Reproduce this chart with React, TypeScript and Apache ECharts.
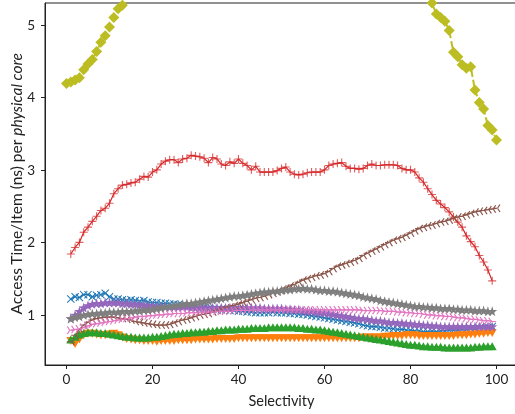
import React, { useEffect, useRef } from "react";
import * as echarts from "echarts";

const xTicks = [0, 20, 40, 60, 80, 100];
const yTicks = [1, 2, 3, 4, 5];

// all bottom series start at selectivity 1, olive at 0
const blueVals = [1.22, 1.25, 1.24, 1.28, 1.28, 1.25, 1.27, 1.28, 1.30, 1.25, 1.22, 1.22, 1.21, 1.20, 1.21, 1.20, 1.19, 1.20, 1.18, 1.17,
  1.17, 1.16, 1.16, 1.15, 1.15, 1.14, 1.13, 1.12, 1.12, 1.11, 1.10, 1.10, 1.09, 1.08, 1.08, 1.07, 1.07, 1.06, 1.06, 1.05,
  1.05, 1.04, 1.04, 1.03, 1.03, 1.03, 1.03, 1.04, 1.03, 1.03, 1.03, 1.02, 1.02, 1.01, 1.01, 1.00, 0.99, 0.98, 0.97, 0.96,
  0.95, 0.94, 0.93, 0.92, 0.91, 0.90, 0.89, 0.88, 0.86, 0.85, 0.84, 0.84, 0.83, 0.82, 0.82, 0.81, 0.80, 0.80, 0.79, 0.79,
  0.78, 0.78, 0.77, 0.77, 0.78, 0.77, 0.78, 0.78, 0.79, 0.79, 0.79, 0.80, 0.80, 0.81, 0.81, 0.82, 0.82, 0.83, 0.84];

const orangeVals = [0.64, 0.60, 0.66, 0.72, 0.74, 0.74, 0.73, 0.72, 0.72, 0.73, 0.74, 0.72, 0.69, 0.67, 0.66, 0.65, 0.65, 0.64, 0.64, 0.64,
  0.63, 0.64, 0.64, 0.64, 0.64, 0.65, 0.65, 0.65, 0.65, 0.66, 0.66, 0.66, 0.66, 0.66, 0.67, 0.67, 0.67, 0.67, 0.67, 0.68,
  0.68, 0.68, 0.68, 0.68, 0.68, 0.68, 0.68, 0.68, 0.68, 0.68, 0.68, 0.68, 0.68, 0.68, 0.68, 0.68, 0.68, 0.68, 0.68, 0.68,
  0.68, 0.68, 0.68, 0.68, 0.68, 0.68, 0.68, 0.68, 0.69, 0.69, 0.69, 0.69, 0.69, 0.70, 0.70, 0.71, 0.71, 0.71, 0.72, 0.72,
  0.72, 0.71, 0.71, 0.71, 0.71, 0.71, 0.71, 0.71, 0.71, 0.71, 0.72, 0.72, 0.72, 0.73, 0.73, 0.74, 0.74, 0.75, 0.75];

const greenVals = [0.66, 0.70, 0.73, 0.75, 0.76, 0.76, 0.76, 0.75, 0.75, 0.74, 0.73, 0.72, 0.71, 0.70, 0.70, 0.69, 0.69, 0.69, 0.69, 0.70,
  0.70, 0.71, 0.72, 0.73, 0.74, 0.74, 0.75, 0.75, 0.76, 0.76, 0.77, 0.77, 0.78, 0.78, 0.79, 0.79, 0.80, 0.80, 0.80, 0.81,
  0.81, 0.81, 0.82, 0.82, 0.82, 0.82, 0.83, 0.83, 0.83, 0.83, 0.83, 0.83, 0.83, 0.82, 0.82, 0.81, 0.81, 0.80, 0.80, 0.79,
  0.78, 0.77, 0.76, 0.75, 0.74, 0.73, 0.72, 0.71, 0.70, 0.69, 0.68, 0.67, 0.66, 0.65, 0.64, 0.63, 0.62, 0.61, 0.60, 0.59,
  0.59, 0.58, 0.57, 0.57, 0.56, 0.56, 0.56, 0.55, 0.55, 0.55, 0.55, 0.55, 0.55, 0.55, 0.56, 0.56, 0.57, 0.57, 0.57];

const redVals = [1.84, 1.93, 2.00, 2.14, 2.21, 2.29, 2.36, 2.44, 2.47, 2.54, 2.67, 2.74, 2.79, 2.80, 2.82, 2.83, 2.87, 2.91, 2.90, 2.97,
  3.00, 3.08, 3.12, 3.14, 3.14, 3.10, 3.15, 3.16, 3.20, 3.19, 3.18, 3.16, 3.10, 3.17, 3.15, 3.08, 3.06, 3.11, 3.09, 3.15,
  3.09, 3.06, 3.00, 3.05, 2.97, 2.97, 2.97, 2.97, 2.99, 3.02, 3.04, 2.97, 2.94, 2.93, 2.94, 2.96, 2.97, 2.97, 2.97, 3.00,
  3.06, 3.08, 3.09, 3.10, 3.05, 3.02, 3.02, 3.01, 3.02, 3.06, 3.08, 3.06, 3.06, 3.07, 3.07, 3.07, 3.06, 3.02, 3.00, 3.00,
  2.97, 2.89, 2.83, 2.74, 2.66, 2.58, 2.53, 2.48, 2.42, 2.35, 2.28, 2.21, 2.09, 2.01, 1.94, 1.82, 1.73, 1.62, 1.47];

const purpleVals = [0.95, 1.00, 1.05, 1.10, 1.13, 1.15, 1.16, 1.16, 1.17, 1.17, 1.17, 1.17, 1.16, 1.16, 1.15, 1.15, 1.14, 1.14, 1.13, 1.13,
  1.12, 1.12, 1.12, 1.11, 1.11, 1.11, 1.11, 1.11, 1.10, 1.10, 1.10, 1.10, 1.10, 1.10, 1.10, 1.10, 1.10, 1.10, 1.10, 1.10,
  1.10, 1.10, 1.10, 1.10, 1.10, 1.09, 1.09, 1.09, 1.09, 1.09, 1.08, 1.08, 1.07, 1.07, 1.06, 1.05, 1.05, 1.04, 1.03, 1.03,
  1.02, 1.01, 1.00, 0.99, 0.98, 0.97, 0.96, 0.95, 0.95, 0.94, 0.93, 0.92, 0.92, 0.91, 0.90, 0.90, 0.89, 0.89, 0.88, 0.88,
  0.87, 0.87, 0.86, 0.86, 0.85, 0.85, 0.84, 0.84, 0.84, 0.84, 0.84, 0.84, 0.84, 0.84, 0.84, 0.84, 0.84, 0.84, 0.84];

const brownVals = [0.63, 0.72, 0.80, 0.86, 0.90, 0.93, 0.95, 0.96, 0.97, 0.97, 0.97, 0.96, 0.95, 0.94, 0.93, 0.91, 0.90, 0.89, 0.88, 0.87,
  0.86, 0.86, 0.86, 0.87, 0.89, 0.91, 0.93, 0.94, 0.96, 0.98, 1.00, 1.01, 1.02, 1.04, 1.06, 1.08, 1.10, 1.11, 1.13, 1.15,
  1.17, 1.19, 1.21, 1.23, 1.24, 1.26, 1.28, 1.30, 1.32, 1.34, 1.37, 1.40, 1.42, 1.45, 1.48, 1.50, 1.52, 1.54, 1.55, 1.57,
  1.60, 1.64, 1.67, 1.69, 1.71, 1.73, 1.75, 1.78, 1.82, 1.85, 1.88, 1.91, 1.94, 1.97, 2.00, 2.03, 2.05, 2.07, 2.10, 2.13,
  2.16, 2.19, 2.21, 2.23, 2.24, 2.26, 2.28, 2.29, 2.31, 2.33, 2.35, 2.36, 2.38, 2.40, 2.42, 2.43, 2.44, 2.45, 2.46, 2.47];

const pinkVals = [0.79, 0.80, 0.81, 0.83, 0.85, 0.87, 0.88, 0.89, 0.90, 0.91, 0.92, 0.93, 0.94, 0.95, 0.96, 0.97, 0.98, 0.98, 0.99, 0.99,
  1.00, 1.00, 1.01, 1.01, 1.02, 1.02, 1.02, 1.03, 1.03, 1.03, 1.04, 1.04, 1.04, 1.04, 1.05, 1.05, 1.05, 1.05, 1.06, 1.06,
  1.06, 1.06, 1.07, 1.07, 1.07, 1.07, 1.07, 1.07, 1.07, 1.07, 1.07, 1.07, 1.07, 1.07, 1.07, 1.07, 1.07, 1.07, 1.07, 1.07,
  1.07, 1.07, 1.07, 1.07, 1.07, 1.07, 1.07, 1.07, 1.06, 1.06, 1.06, 1.06, 1.06, 1.05, 1.05, 1.05, 1.04, 1.04, 1.03, 1.03,
  1.02, 1.02, 1.01, 1.00, 1.00, 0.99, 0.99, 0.98, 0.98, 0.97, 0.96, 0.96, 0.95, 0.94, 0.94, 0.93, 0.92, 0.92, 0.91];

const grayVals = [0.95, 0.97, 0.98, 1.00, 1.01, 1.02, 1.02, 1.03, 1.03, 1.04, 1.04, 1.04, 1.05, 1.05, 1.05, 1.06, 1.06, 1.07, 1.07, 1.08,
  1.09, 1.10, 1.11, 1.12, 1.13, 1.14, 1.15, 1.16, 1.16, 1.17, 1.18, 1.19, 1.20, 1.21, 1.22, 1.23, 1.24, 1.25, 1.26, 1.26,
  1.27, 1.28, 1.29, 1.30, 1.31, 1.32, 1.32, 1.33, 1.33, 1.34, 1.35, 1.35, 1.36, 1.36, 1.37, 1.36, 1.36, 1.35, 1.34, 1.34,
  1.33, 1.33, 1.32, 1.31, 1.30, 1.29, 1.28, 1.27, 1.25, 1.24, 1.23, 1.22, 1.20, 1.19, 1.18, 1.17, 1.16, 1.15, 1.14, 1.13,
  1.12, 1.12, 1.11, 1.11, 1.10, 1.10, 1.09, 1.09, 1.09, 1.08, 1.08, 1.07, 1.07, 1.07, 1.06, 1.06, 1.06, 1.05, 1.05];

const oliveVals = [4.19, 4.21, 4.24, 4.27, 4.38, 4.46, 4.52, 4.63, 4.76, 4.85, 4.97, 5.10, 5.22, 5.27, 5.33, 5.46, 5.60, 5.72, 5.85, 5.97,
  6.10, 6.20, 6.30, 6.40, 6.50, 6.60, 6.70, 6.80, 6.90, 7.00, 7.10, 7.15, 7.20, 7.30, 7.35, 7.40, 7.45, 7.50, 7.55, 7.60,
  7.62, 7.65, 7.68, 7.70, 7.72, 7.74, 7.75, 7.76, 7.76, 7.77, 7.77, 7.76, 7.75, 7.74, 7.72, 7.70, 7.68, 7.65, 7.60, 7.55,
  7.50, 7.45, 7.40, 7.30, 7.20, 7.10, 7.00, 6.90, 6.80, 6.70, 6.60, 6.50, 6.40, 6.30, 6.20, 6.10, 6.00, 5.90, 5.80, 5.72,
  5.64, 5.56, 5.48, 5.42, 5.36, 5.30, 5.15, 5.10, 5.05, 4.92, 4.62, 4.56, 4.45, 4.40, 4.42, 4.10, 3.93, 3.84, 3.61, 3.55, 3.41];

const PLUS = "path://M4.3,0H5.7V4.3H10V5.7H5.7V10H4.3V5.7H0V4.3H4.3Z";
const CROSS = "path://M0,0.9L0.9,0L5,4.1L9.1,0L10,0.9L5.9,5L10,9.1L9.1,10L5,5.9L0.9,10L0,9.1L4.1,5Z";
const STAR = "path://M5,0L6.2,3.5L10,3.6L7,5.9L8.1,9.5L5,7.4L1.9,9.5L3,5.9L0,3.6L3.8,3.5Z";
const TRI_DOWN = "path://M0,0L10,0L5,8.66Z";
const TRI_LEFT = "path://M0,4.4H5V5.6H0Z M5.52,5.3L8.02,0.97L6.98,0.37L4.48,4.7Z M4.48,5.3L6.98,9.63L8.02,9.03L5.52,4.7Z";
const TRI_RIGHT = "path://M10,4.4H5V5.6H10Z M4.48,5.3L1.98,0.97L3.02,0.37L5.52,4.7Z M5.52,5.3L3.02,9.63L1.98,9.03L4.48,4.7Z";

const FONT = "Lato";
const TEXT = "#222";

function pts(vals: number[], start: number) {
  return vals.map((v, i) => [start + i, v]);
}

export default function App() {
  const ref = useRef<HTMLDivElement>(null);
  useEffect(() => {
    if (!ref.current) return;
    const chart = echarts.init(ref.current, undefined, { renderer: "svg" });
    const mk = (name: string, vals: number[], start: number, color: string, symbol: string, size: number | number[], extra: any = {}) => ({
      name,
      type: "line",
      data: pts(vals, start),
      symbol,
      symbolSize: size,
      showAllSymbol: true,
      clip: true,
      lineStyle: { color, width: 1.2 },
      itemStyle: { color },
      emphasis: { disabled: true },
      ...extra,
    });
    chart.setOption({
      animation: false,
      grid: {
        left: 45, right: -3, top: 3, bottom: 49,
        outerBoundsMode: "none",
        containLabel: false,
        show: true, borderColor: "#222", borderWidth: 1, backgroundColor: "transparent",
      },
      xAxis: {
        type: "value",
        min: -5,
        max: 105,
        name: "Selectivity",
        nameLocation: "middle",
        nameGap: 28,
        nameMoveOverlap: false,
        nameTextStyle: { fontFamily: FONT, fontSize: 14.5, color: TEXT },
        axisLine: { show: true, onZero: false, lineStyle: { color: "#222" } },
        axisTick: { show: true, customValues: xTicks, length: 4, lineStyle: { color: "#222" } },
        axisLabel: { customValues: xTicks, fontFamily: FONT, fontSize: 13.5, color: TEXT, margin: 7 },
        splitLine: { show: false },
      },
      yAxis: {
        type: "value",
        min: 0.31,
        max: 5.3,
        name: "Access Time/Item (ns) per {i|physical core}",
        nameLocation: "middle",
        nameGap: 21,
        nameMoveOverlap: false,
        nameTextStyle: {
          fontFamily: FONT, fontSize: 15.5, color: TEXT,
          rich: { i: { fontFamily: FONT, fontSize: 15.5, color: TEXT, fontStyle: "italic" } },
        },
        axisLine: { show: true, onZero: false, lineStyle: { color: "#222" } },
        axisTick: { show: true, customValues: yTicks, length: 4, lineStyle: { color: "#222" } },
        axisLabel: { customValues: yTicks, fontFamily: FONT, fontSize: 13.5, color: TEXT, margin: 10 },
        splitLine: { show: false },
      },
      series: [
        mk("blue", blueVals, 1, "#1f77b4", CROSS, 8),
        mk("orange", orangeVals, 1, "#ff7f0e", TRI_DOWN, [9, 8]),
        mk("green", greenVals, 1, "#2ca02c", "triangle", [9, 8]),
        mk("red", redVals, 1, "#d62728", PLUS, 8, { itemStyle: { color: "#d62728", opacity: 0.75 } }),
        mk("purple", purpleVals, 1, "#9467bd", STAR, 10),
        mk("brown", brownVals, 1, "#8c564b", TRI_LEFT, 8),
        mk("pink", pinkVals, 1, "#e377c2", TRI_RIGHT, 8),
        mk("gray", grayVals, 1, "#7f7f7f", STAR, 10),
        mk("olive", oliveVals, 0, "#bcbd22", "diamond", [11, 11], { lineStyle: { color: "#bcbd22", width: 2, type: [7, 3] } }),
      ],
    });
    return () => chart.dispose();
  }, []);
  return <div ref={ref} style={{ position: "fixed", left: 0, top: 0, width: 515, height: 414 }} />;
}
